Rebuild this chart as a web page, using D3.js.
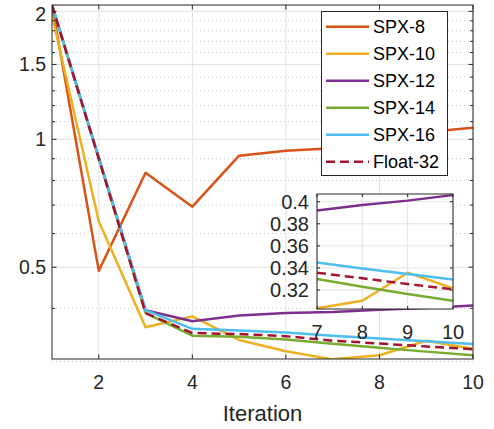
<!DOCTYPE html>
<html>
<head>
<meta charset="utf-8">
<script src="https://cdn.jsdelivr.net/npm/d3@7"></script>
<style>
  html, body { margin: 0; padding: 0; background: #fff; }
  svg { display: block; font-family: "Liberation Sans", Arial, sans-serif; }
</style>
</head>
<body>
<div id="chart"></div>
<script>
// ── Datos ───────────────────────────────────────────────────────────────
const iterations = [1, 2, 3, 4, 5, 6, 7, 8, 9, 10];

const spx8  = [2.07, 0.49, 0.834, 0.694, 0.915, 0.940, 0.953, 0.99, 1.04, 1.065];
const spx10 = [1.96, 0.641, 0.361, 0.383, 0.337, 0.317, 0.3034, 0.3103, 0.3357, 0.3215];
const spx12 = [2.07, 0.905, 0.396, 0.373, 0.385, 0.390, 0.392, 0.397, 0.401, 0.406];
const spx14 = [2.07, 0.90, 0.390, 0.345, 0.343, 0.338, 0.330, 0.323, 0.3164, 0.3103];
const spx16 = [2.07, 0.905, 0.396, 0.358, 0.355, 0.351, 0.345, 0.3396, 0.3345, 0.3296];
const float32 = [2.07, 0.90, 0.390, 0.350, 0.348, 0.344, 0.3357, 0.3306, 0.3254, 0.3206];

const seriesNames = ["SPX-8", "SPX-10", "SPX-12", "SPX-14", "SPX-16", "Float-32"];
const seriesValues = [spx8, spx10, spx12, spx14, spx16, float32];
const seriesColors = ["#D95319", "#EDB120", "#7E2F8E", "#77AC30", "#4DBEEE", "#A2142F"];

const xTicks = [2, 4, 6, 8, 10];
const yTicks = [0.5, 1, 1.5, 2];
const yMinor = [0.3, 0.4, 0.6, 0.7, 0.8, 0.9, 1.1, 1.2, 1.3, 1.4, 1.6, 1.7, 1.8, 1.9];

const insetX = [7, 8, 9, 10];
const insetYTicks = [0.32, 0.34, 0.36, 0.38, 0.4];

// ── Tamaños ─────────────────────────────────────────────────────────────
const width = 494, height = 429;
const plot = { left: 52, right: 473, top: 5, bottom: 359 };
const inset = { left: 317, right: 453, top: 194, bottom: 309 };
const axisColor = "#262626";
const gridColor = "#e3e3e3";

const svg = d3.create("svg")
  .attr("width", width)
  .attr("height", height)
  .attr("viewBox", [0, 0, width, height]);

svg.append("rect").attr("width", width).attr("height", height).attr("fill", "#fff");

const defs = svg.append("defs");
defs.append("clipPath").attr("id", "clipMain")
  .append("rect")
  .attr("x", plot.left).attr("y", plot.top)
  .attr("width", plot.right - plot.left).attr("height", plot.bottom - plot.top);
defs.append("clipPath").attr("id", "clipInset")
  .append("rect")
  .attr("x", inset.left).attr("y", inset.top)
  .attr("width", inset.right - inset.left).attr("height", inset.bottom - inset.top);

// ── Escalas ─────────────────────────────────────────────────────────────
const x = d3.scaleLinear().domain([1, 10]).range([plot.left, plot.right]);
const y = d3.scaleLog().domain([0.304, 2.07]).range([plot.bottom, plot.top]);

// ── Rejilla ─────────────────────────────────────────────────────────────
const grid = svg.append("g");
grid.selectAll(".minor")
  .data(yMinor)
  .join("line")
  .attr("x1", plot.left).attr("x2", plot.right)
  .attr("y1", d => y(d)).attr("y2", d => y(d))
  .attr("stroke", "#c8c8c8")
  .attr("stroke-width", 1)
  .attr("stroke-dasharray", "1,3");
grid.selectAll(".majorY")
  .data(yTicks)
  .join("line")
  .attr("x1", plot.left).attr("x2", plot.right)
  .attr("y1", d => y(d)).attr("y2", d => y(d))
  .attr("stroke", gridColor)
  .attr("stroke-width", 1);
grid.selectAll(".majorX")
  .data(xTicks)
  .join("line")
  .attr("x1", d => x(d)).attr("x2", d => x(d))
  .attr("y1", plot.top).attr("y2", plot.bottom)
  .attr("stroke", gridColor)
  .attr("stroke-width", 1);

// ── Líneas ──────────────────────────────────────────────────────────────
const lineMain = d3.line()
  .x((d, i) => x(iterations[i]))
  .y(d => y(d));

const lines = svg.append("g").attr("clip-path", "url(#clipMain)");
seriesValues.forEach((vals, k) => {
  lines.append("path")
    .attr("d", lineMain(vals))
    .attr("fill", "none")
    .attr("stroke", seriesColors[k])
    .attr("stroke-width", 2.5)
    .attr("stroke-linejoin", "round")
    .attr("stroke-dasharray", seriesNames[k] === "Float-32" ? "9,5" : null);
});

// ── Ejes (caja con ticks hacia dentro) ──────────────────────────────────
const axes = svg.append("g").attr("stroke", axisColor).attr("stroke-width", 1);
axes.append("rect")
  .attr("x", plot.left).attr("y", plot.top)
  .attr("width", plot.right - plot.left).attr("height", plot.bottom - plot.top)
  .attr("fill", "none");

const tickLen = 4.5;
xTicks.forEach(t => {
  axes.append("line").attr("x1", x(t)).attr("x2", x(t))
    .attr("y1", plot.bottom).attr("y2", plot.bottom - tickLen);
  axes.append("line").attr("x1", x(t)).attr("x2", x(t))
    .attr("y1", plot.top).attr("y2", plot.top + tickLen);
});
yTicks.forEach(t => {
  axes.append("line").attr("x1", plot.left).attr("x2", plot.left + tickLen)
    .attr("y1", y(t)).attr("y2", y(t));
  axes.append("line").attr("x1", plot.right).attr("x2", plot.right - tickLen)
    .attr("y1", y(t)).attr("y2", y(t));
});
yMinor.filter(t => y(t) <= plot.bottom).forEach(t => {
  axes.append("line").attr("x1", plot.left).attr("x2", plot.left + 3)
    .attr("y1", y(t)).attr("y2", y(t));
  axes.append("line").attr("x1", plot.right).attr("x2", plot.right - 3)
    .attr("y1", y(t)).attr("y2", y(t));
});

const labels = svg.append("g")
  .attr("fill", axisColor)
  .style("font-size", "19.5px");

labels.selectAll(".xl")
  .data(xTicks)
  .join("text")
  .attr("x", d => x(d))
  .attr("y", 382)
  .attr("dy", "0.35em")
  .attr("text-anchor", "middle")
  .text(d => d);

labels.selectAll(".yl")
  .data(yTicks)
  .join("text")
  .attr("x", plot.left - 6)
  .attr("y", d => Math.max(y(d), 14.5))
  .attr("dy", "0.35em")
  .attr("text-anchor", "end")
  .text(d => d);

svg.append("text")
  .attr("x", (plot.left + plot.right) / 2)
  .attr("y", 421)
  .attr("text-anchor", "middle")
  .attr("fill", axisColor)
  .style("font-size", "22px")
  .text("Iteration");

// ── Leyenda ─────────────────────────────────────────────────────────────
const legend = svg.append("g");
legend.append("rect")
  .attr("x", 321.5).attr("y", 11.5)
  .attr("width", 126).attr("height", 164)
  .attr("fill", "#fff")
  .attr("stroke", axisColor)
  .attr("stroke-width", 1);

seriesNames.forEach((name, k) => {
  const ly = 26.7 + k * 27;
  legend.append("line")
    .attr("x1", 326).attr("x2", 369)
    .attr("y1", ly).attr("y2", ly)
    .attr("stroke", seriesColors[k])
    .attr("stroke-width", 2.5)
    .attr("stroke-dasharray", name === "Float-32" ? "9,5" : null);
  legend.append("text")
    .attr("x", 373)
    .attr("y", ly)
    .attr("dy", "0.35em")
    .attr("fill", "#000")
    .style("font-size", "18px")
    .text(name);
});

// ── Recuadro ampliado (iteraciones 7-10) ───────────────────────────────
const xi = d3.scaleLinear().domain([7, 10]).range([inset.left, inset.right]);
const yi = d3.scaleLinear().domain([0.3028, 0.407]).range([inset.bottom, inset.top]);

const ins = svg.append("g");
ins.append("rect")
  .attr("x", inset.left).attr("y", inset.top)
  .attr("width", inset.right - inset.left).attr("height", inset.bottom - inset.top)
  .attr("fill", "#fff");

ins.selectAll(".gy")
  .data(insetYTicks)
  .join("line")
  .attr("x1", inset.left).attr("x2", inset.right)
  .attr("y1", d => yi(d)).attr("y2", d => yi(d))
  .attr("stroke", gridColor);
ins.selectAll(".gx")
  .data(insetX)
  .join("line")
  .attr("x1", d => xi(d)).attr("x2", d => xi(d))
  .attr("y1", inset.top).attr("y2", inset.bottom)
  .attr("stroke", gridColor);

const lineInset = d3.line()
  .x(d => xi(d[0]))
  .y(d => yi(d[1]));

const insLines = ins.append("g").attr("clip-path", "url(#clipInset)");
seriesValues.forEach((vals, k) => {
  const pts = iterations.map((it, i) => [it, vals[i]]).filter(d => d[0] >= 7);
  if (seriesNames[k] === "SPX-8") return;
  insLines.append("path")
    .attr("d", lineInset(pts))
    .attr("fill", "none")
    .attr("stroke", seriesColors[k])
    .attr("stroke-width", 2.5)
    .attr("stroke-linejoin", "round")
    .attr("stroke-dasharray", seriesNames[k] === "Float-32" ? "9,5" : null);
});

const insAx = ins.append("g").attr("stroke", axisColor).attr("stroke-width", 1);
insAx.append("rect")
  .attr("x", inset.left).attr("y", inset.top)
  .attr("width", inset.right - inset.left).attr("height", inset.bottom - inset.top)
  .attr("fill", "none");
insetX.forEach(t => {
  insAx.append("line").attr("x1", xi(t)).attr("x2", xi(t))
    .attr("y1", inset.bottom).attr("y2", inset.bottom - 3);
  insAx.append("line").attr("x1", xi(t)).attr("x2", xi(t))
    .attr("y1", inset.top).attr("y2", inset.top + 3);
});
insetYTicks.forEach(t => {
  insAx.append("line").attr("x1", inset.left).attr("x2", inset.left + 3)
    .attr("y1", yi(t)).attr("y2", yi(t));
  insAx.append("line").attr("x1", inset.right).attr("x2", inset.right - 3)
    .attr("y1", yi(t)).attr("y2", yi(t));
});

const insLab = ins.append("g")
  .attr("fill", axisColor)
  .style("font-size", "20px");
insLab.selectAll(".ixl")
  .data(insetX)
  .join("text")
  .attr("x", d => xi(d))
  .attr("y", 331.5)
  .attr("dy", "0.35em")
  .attr("text-anchor", "middle")
  .text(d => d);
insLab.selectAll(".iyl")
  .data(insetYTicks)
  .join("text")
  .attr("x", inset.left - 8)
  .attr("y", d => yi(d))
  .attr("dy", "0.35em")
  .attr("text-anchor", "end")
  .text(d => d);

document.getElementById("chart").append(svg.node());
</script>
</body>
</html>
